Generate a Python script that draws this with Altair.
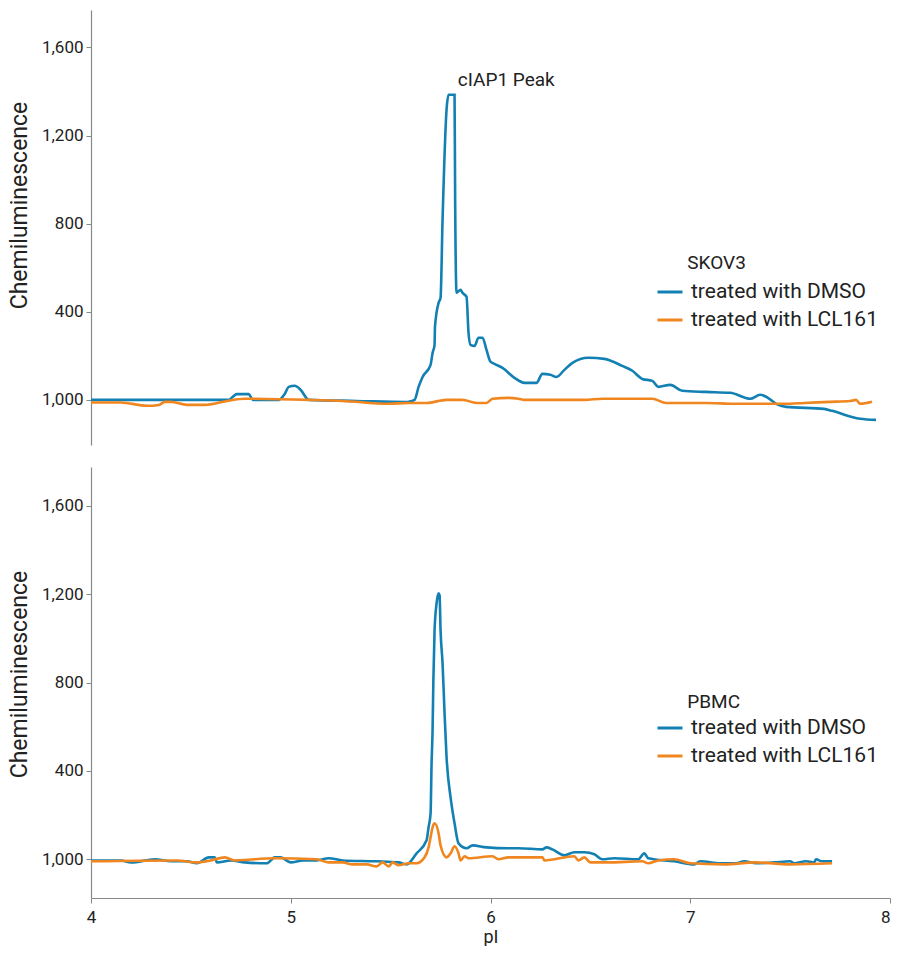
import altair as alt
import pandas as pd

BLUE = "#1380B4"
ORANGE = "#F0861F"
FONT = "Roboto"
series_names = ["treated with DMSO", "treated with LCL161"]

# ---- SKOV3 panel ----
skov_dmso_pi = [4.00, 4.69, 4.71, 4.73, 4.79, 4.81, 4.94, 4.97, 4.99, 5.02, 5.05, 5.09, 5.33, 5.58, 5.59,
                5.62, 5.64, 5.66, 5.70, 5.71, 5.72, 5.722, 5.74, 5.75, 5.76, 5.78, 5.79, 5.82, 5.823, 5.83,
                5.85, 5.86, 5.88, 5.89, 5.90, 5.92, 5.94, 5.96, 5.98, 6.00, 6.02, 6.06, 6.12, 6.17, 6.23,
                6.26, 6.30, 6.33, 6.37, 6.41, 6.49, 6.57, 6.66, 6.71, 6.76, 6.81, 6.84, 6.90, 6.96, 7.08,
                7.20, 7.30, 7.35, 7.38, 7.43, 7.48, 7.67, 7.71, 7.85, 7.93]
skov_dmso_val = [0, 0, 14, 26, 26, 0, 0, 27, 59, 64, 45, 0, -5, -10, -9,
                 0, 59, 104, 159, 213, 250, 331, 440, 463, 817, 1317, 1385, 1385, 908, 486,
                 500, 486, 468, 304, 250, 245, 282, 282, 227, 173, 163, 145, 100, 77, 77,
                 118, 114, 104, 136, 168, 191, 186, 154, 132, 95, 86, 59, 68, 41, 36,
                 32, 5, 23, 14, -18, -32, -41, -50, -86, -91]
skov_lcl_pi = [4.00, 4.15, 4.28, 4.34, 4.37, 4.40, 4.48, 4.57, 4.68, 4.77, 5.09, 5.26, 5.49, 5.59, 5.68,
               5.78, 5.86, 5.93, 5.98, 6.01, 6.09, 6.14, 6.17, 6.47, 6.56, 6.76, 6.81, 6.88, 7.08, 7.22,
               7.48, 7.57, 7.70, 7.80, 7.83, 7.85, 7.91]
skov_lcl_val = [-12, -12, -27, -23, -9, -9, -23, -23, -5, 5, 0, -5, -18, -14, -14,
                0, 0, -14, -14, 5, 9, 5, 0, 0, 5, 5, 5, -14, -14, -18,
                -18, -14, -9, -5, 0, -18, -9]

# ---- PBMC panel ----
pbmc_dmso_pi = [4.00, 4.15, 4.20, 4.32, 4.40, 4.48, 4.53, 4.59, 4.62, 4.63, 4.70, 4.77, 4.88, 4.92, 4.95,
                5.00, 5.06, 5.13, 5.19, 5.26, 5.43, 5.54, 5.58, 5.63, 5.68, 5.69, 5.70, 5.705, 5.71, 5.714,
                5.72, 5.73, 5.74, 5.745, 5.75, 5.76, 5.77, 5.78, 5.80, 5.82, 5.84, 5.88, 5.91, 5.98, 6.09,
                6.14, 6.26, 6.28, 6.31, 6.37, 6.42, 6.47, 6.52, 6.56, 6.62, 6.74, 6.77, 6.79, 6.92, 7.02,
                7.05, 7.15, 7.23, 7.27, 7.33, 7.42, 7.50, 7.52, 7.58, 7.62, 7.63, 7.66, 7.71]
pbmc_dmso_val = [-5, -5, -14, 0, -9, -9, -18, 9, 9, -14, -5, -14, -18, 9, 9,
                 -14, -5, -5, 5, -5, -9, -14, -23, 27, 86, 145, 208, 434, 584, 810,
                 1036, 1158, 1204, 1195, 1036, 887, 661, 462, 281, 163, 72, 50, 63, 54, 50,
                 50, 45, 54, 45, 18, 32, 32, 23, 0, 5, 0, 27, 5, -9, -23,
                 -9, -18, -18, -9, -18, -14, -9, -18, -9, -14, 0, -9, -9]
pbmc_lcl_pi = [4.00, 4.43, 4.53, 4.60, 4.67, 4.72, 4.92, 5.13, 5.19, 5.26, 5.31, 5.38, 5.43, 5.46, 5.49,
               5.51, 5.54, 5.59, 5.63, 5.67, 5.69, 5.70, 5.71, 5.72, 5.74, 5.75, 5.78, 5.80, 5.82, 5.84,
               5.85, 5.87, 5.89, 6.01, 6.04, 6.09, 6.26, 6.27, 6.42, 6.44, 6.47, 6.50, 6.59, 6.76, 6.79,
               6.84, 6.92, 7.00, 7.17, 7.33, 7.50, 7.71]
pbmc_lcl_val = [-9, -5, -14, -5, 9, -5, 5, 0, -14, -14, -23, -23, -32, -14, -32,
                -14, -27, -18, -18, 9, 54, 100, 145, 163, 118, 63, 9, 27, 59, 27,
                -5, 14, 5, 14, 0, 9, 9, -5, 14, -5, 9, -14, -14, -9, -18,
                -5, 0, -18, -23, -14, -23, -18]

y_ticks = [0, 400, 800, 1200, 1600]
x_ticks = [4, 5, 6, 7, 8]


def frame(pis, vals, name):
    return pd.DataFrame({"pI": pis, "value": vals, "series": name, "idx": range(len(pis))})


def panel(dmso, lcl, label, label_pos, y_domain, height, title_y, show_x, annotation=None, legend_y=0):
    df = pd.concat([dmso, lcl], ignore_index=True)
    if show_x:
        x_axis = alt.Axis(values=x_ticks, format="d", title="pI", grid=False, labelFontSize=17,
                          titleFontSize=18, titleFontWeight="normal", labelPadding=6, titlePadding=3,
                          tickSize=5,
                          labelAlign={"condition": {"test": "datum.value == 8", "value": "right"},
                                      "value": "center"})
    else:
        x_axis = None
    x = alt.X("pI:Q", scale=alt.Scale(domain=[4, 8], nice=False), axis=x_axis)
    y = alt.Y("value:Q", scale=alt.Scale(domain=y_domain, nice=False, zero=False),
              axis=alt.Axis(values=y_ticks, title="Chemiluminescence", grid=False,
                            labelExpr="datum.value == 0 ? '1,000' : format(datum.value, ',')",
                            labelFontSize=17, titleFontSize=23, titleFontWeight="normal",
                            titleAngle=270, titleAlign="center", titleBaseline="middle",
                            titleX=-72, titleY=title_y, labelPadding=3, tickSize=5))
    lines = alt.Chart(df).mark_line(strokeWidth=2.6, interpolate="monotone").encode(
        x=x, y=y,
        color=alt.Color("series:N",
                        scale=alt.Scale(domain=series_names, range=[BLUE, ORANGE]),
                        legend=alt.Legend(title=None, orient="none", legendX=565, legendY=legend_y,
                                          symbolType="stroke", symbolSize=625, symbolStrokeWidth=3,
                                          labelFontSize=21, labelOffset=7, rowPadding=4,
                                          labelLimit=400, labelColor="#222222", padding=0)),
        order="idx:Q",
    )
    texts = [label_pos + [label]]
    if annotation:
        texts.append(annotation)
    tdf = pd.DataFrame(texts, columns=["pI", "value", "t"])
    txt = alt.Chart(tdf).mark_text(align="left", baseline="middle", fontSize=19, color="#222222",
                                   font=FONT).encode(
        x=alt.X("pI:Q", scale=alt.Scale(domain=[4, 8], nice=False)),
        y=alt.Y("value:Q", scale=alt.Scale(domain=y_domain, nice=False, zero=False)),
        text="t:N",
    )
    return alt.layer(lines, txt).properties(width=799, height=height)


top = panel(frame(skov_dmso_pi, skov_dmso_val, series_names[0]),
            frame(skov_lcl_pi, skov_lcl_val, series_names[1]),
            "SKOV3", [6.985, 622], [-205, 1770], 435, 195, False,
            annotation=[5.836, 1453, "cIAP1 Peak"], legend_y=268)
bottom = panel(frame(pbmc_dmso_pi, pbmc_dmso_val, series_names[0]),
               frame(pbmc_lcl_pi, pbmc_lcl_val, series_names[1]),
               "PBMC", [6.985, 710], [-175, 1775], 431, 207, True, legend_y=247)

chart = alt.vconcat(top, bottom, spacing=22).resolve_scale(
    y="independent", color="independent"
).resolve_legend(color="independent").properties(
    padding={"left": 0, "top": 2, "right": 0, "bottom": 0}
).configure_view(stroke=None).configure_axis(
    domainColor="#888888", tickColor="#888888", labelColor="#222222", titleColor="#222222",
    labelFont=FONT, titleFont=FONT, domainWidth=1.2
).configure_legend(labelFont=FONT).configure_text(font=FONT)

chart.save("out.html", embed_options={"renderer": "svg", "actions": False})
